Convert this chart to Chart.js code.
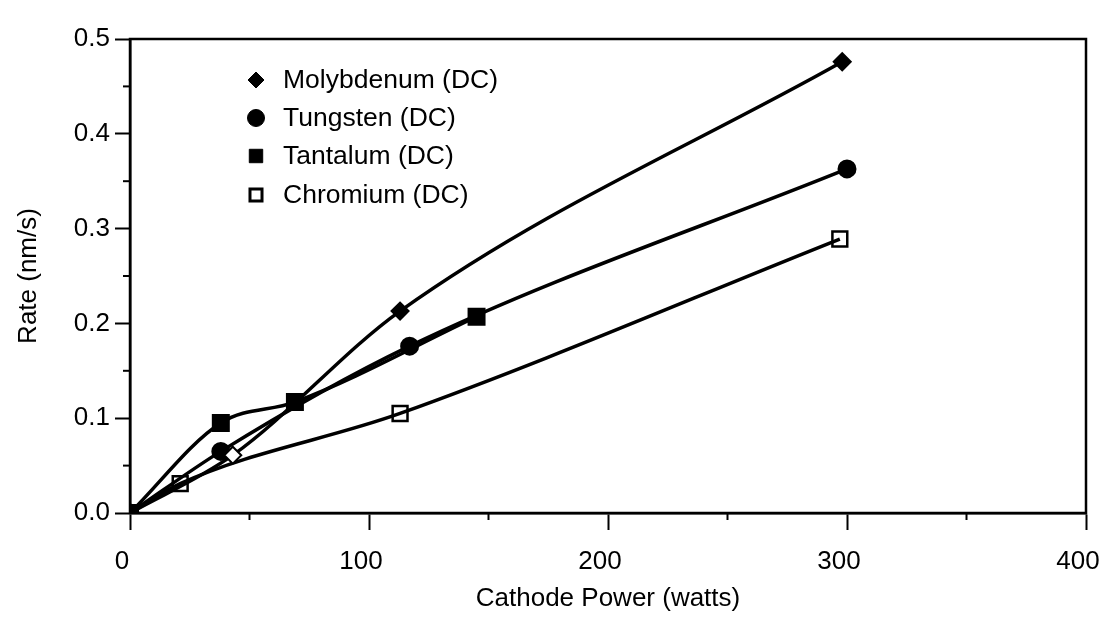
<!DOCTYPE html>
<html>
<head>
<meta charset="utf-8">
<script src="https://cdn.jsdelivr.net/npm/chart.js@4/dist/chart.umd.min.js"></script>
<style>
  html, body { margin: 0; padding: 0; background: #fff; }
  canvas { display: block; }
</style>
</head>
<body>
<canvas id="rateChart" width="1102" height="628"></canvas>
<script>
// values
const xTickLabels = ['0', '100', '200', '300', '400'];
const yTickLabels = ['0.0', '0.1', '0.2', '0.3', '0.4', '0.5'];
const seriesNames = ['Molybdenum (DC)', 'Tungsten (DC)', 'Tantalum (DC)', 'Chromium (DC)'];

const molyPower = [0, 43, 113, 298];
const molyRate = [0, 0.061, 0.213, 0.476];
const tungPower = [0, 38, 117, 300];
const tungRate = [0, 0.065, 0.176, 0.363];
const tantPower = [0, 38, 69, 145];
const tantRate = [0, 0.095, 0.117, 0.207];
const chromPower = [0, 21, 113, 297];
const chromRate = [0, 0.031, 0.105, 0.289];

const FONT = "'Liberation Sans', Arial, Helvetica, sans-serif";

function toPoints(xs, ys) {
    return xs.map((x, i) => ({ x: x, y: ys[i] }));
}

function makeSeries(label, xs, ys, style) {
    return Object.assign({
        label: label,
        data: toPoints(xs, ys),
        showLine: true,
        borderColor: '#000',
        borderWidth: 3.5,
        cubicInterpolationMode: 'monotone',
        pointBorderColor: '#000',
        pointBorderWidth: 2,
        pointHoverRadius: 0
    }, style);
}

const datasets = [
    makeSeries(seriesNames[0], molyPower, molyRate, {
        pointStyle: 'rectRot', pointRadius: 8.5,
        pointBackgroundColor: ['#000', '#fff', '#000', '#000']
    }),
    makeSeries(seriesNames[1], tungPower, tungRate, {
        pointStyle: 'circle', pointRadius: 8.5, pointBackgroundColor: '#000'
    }),
    makeSeries(seriesNames[2], tantPower, tantRate, {
        pointStyle: 'rect', pointRadius: 11.3, pointBackgroundColor: '#000'
    }),
    makeSeries(seriesNames[3], chromPower, chromRate, {
        pointStyle: 'rect', pointRadius: 10.5, pointBorderWidth: 2.5,
        pointBackgroundColor: 'rgba(0,0,0,0)'
    })
];

// frame, minor ticks and the in-plot legend
const framePlugin = {
    id: 'frame',
    afterDraw(chart) {
        const ctx = chart.ctx;
        const area = chart.chartArea;
        const xs = chart.scales.x;
        const ys = chart.scales.y;
        ctx.save();
        ctx.strokeStyle = '#000';
        ctx.lineWidth = 2.5;
        ctx.strokeRect(area.left, area.top, area.right - area.left, area.bottom - area.top);

        ctx.lineWidth = 2;
        [50, 150, 250, 350].forEach(v => {
            const px = xs.getPixelForValue(v);
            ctx.beginPath();
            ctx.moveTo(px, area.bottom);
            ctx.lineTo(px, area.bottom + 7);
            ctx.stroke();
        });
        [0.05, 0.15, 0.25, 0.35, 0.45].forEach(v => {
            const py = ys.getPixelForValue(v);
            ctx.beginPath();
            ctx.moveTo(area.left - 7, py);
            ctx.lineTo(area.left, py);
            ctx.stroke();
        });

        // legend
        const lx = area.left + 126;
        const rows = [80, 118, 156, 195];
        const legendMarks = [
            { pointStyle: 'rectRot', radius: 8, fill: '#000', bw: 1 },
            { pointStyle: 'circle', radius: 8.5, fill: '#000', bw: 1 },
            { pointStyle: 'rect', radius: 9.5, fill: '#000', bw: 1 },
            { pointStyle: 'rect', radius: 8.5, fill: '#fff', bw: 3 }
        ];
        ctx.font = '26.5px ' + FONT;
        ctx.textBaseline = 'middle';
        ctx.textAlign = 'left';
        chart.data.datasets.forEach((ds, i) => {
            const m = legendMarks[i];
            ctx.fillStyle = m.fill;
            ctx.strokeStyle = '#000';
            ctx.lineWidth = m.bw;
            Chart.helpers.drawPoint(ctx, {
                pointStyle: m.pointStyle, radius: m.radius, rotation: 0, borderWidth: m.bw
            }, lx, rows[i]);
            ctx.fillStyle = '#000';
            ctx.fillText(ds.label, lx + 27, rows[i] + 1);
        });
        ctx.restore();
    }
};

new Chart(document.getElementById('rateChart').getContext('2d'), {
    type: 'scatter',
    data: { datasets: datasets },
    options: {
        responsive: false,
        animation: false,
        devicePixelRatio: 1,
        layout: {
            padding: { left: 0, top: 39, right: 16, bottom: 0 }
        },
        scales: {
            x: {
                type: 'linear',
                min: 0,
                max: 400,
                afterFit: function(scale) {
                    scale.height = 115;
                    scale.paddingRight = 0;
                    scale.paddingLeft = 0;
                },
                ticks: {
                    stepSize: 100,
                    color: '#000',
                    padding: 16,
                    labelOffset: -8,
                    maxRotation: 0,
                    font: { family: FONT, size: 26 },
                    callback: function(value) {
                        return xTickLabels[Math.round(value / 100)];
                    }
                },
                grid: {
                    drawOnChartArea: false,
                    drawTicks: true,
                    tickLength: 17,
                    tickWidth: 2,
                    tickColor: '#000'
                },
                border: { color: '#000', width: 2.5 },
                title: {
                    display: true,
                    text: 'Cathode Power (watts)',
                    color: '#000',
                    font: { family: FONT, size: 26 },
                    padding: { top: 0, bottom: 14 }
                }
            },
            y: {
                type: 'linear',
                min: 0,
                max: 0.5,
                afterFit: function(scale) {
                    scale.width = 130;
                },
                ticks: {
                    stepSize: 0.1,
                    color: '#000',
                    padding: 5,
                    font: { family: FONT, size: 26 },
                    callback: function(value) {
                        return yTickLabels[Math.round(value * 10)];
                    }
                },
                grid: {
                    drawOnChartArea: false,
                    drawTicks: true,
                    tickLength: 15,
                    tickWidth: 2,
                    tickColor: '#000'
                },
                border: { color: '#000', width: 2.5 },
                title: {
                    display: true,
                    text: 'Rate (nm/s)',
                    color: '#000',
                    font: { family: FONT, size: 26 },
                    padding: 13
                }
            }
        },
        plugins: {
            legend: { display: false },
            tooltip: { enabled: false }
        }
    },
    plugins: [framePlugin]
});
</script>
</body>
</html>
